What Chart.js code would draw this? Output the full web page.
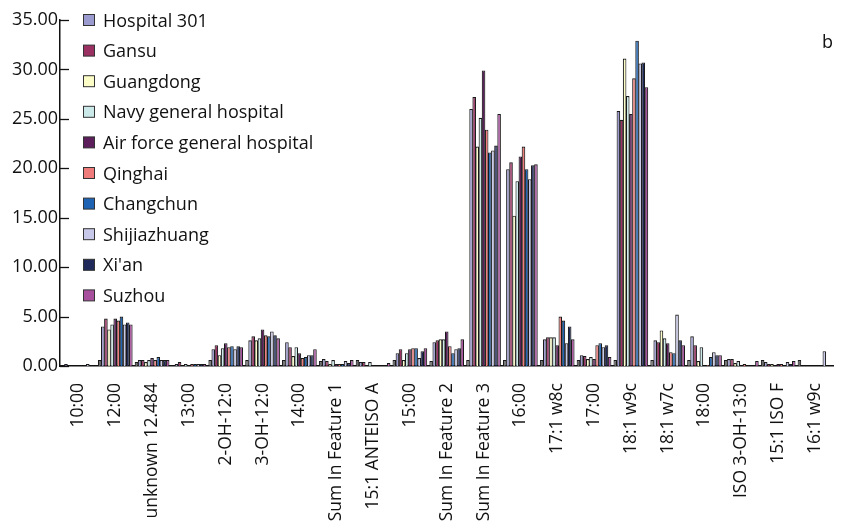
<!DOCTYPE html>
<html>
<head>
<meta charset="utf-8">
<script src="https://cdn.jsdelivr.net/npm/chart.js@4.4.1/dist/chart.umd.min.js"></script>
<style>
  html, body { margin: 0; padding: 0; background: #ffffff; }
  canvas { display: block; }
</style>
</head>
<body>
<canvas id="chart" width="845" height="521"></canvas>
<script>
// Fatty acid profile (%), per strain source
const categories = [
  '10:00', '12:00', 'unknown 12.484', '13:00', '2-OH-12:0', '3-OH-12:0', '14:00',
  'Sum In Feature 1', '15:1 ANTEISO A', '15:00', 'Sum In Feature 2', 'Sum In Feature 3',
  '16:00', '17:1 w8c', '17:00', '18:1 w9c', '18:1 w7c', '18:00', 'ISO 3-OH-13:0',
  '15:1 ISO F', '16:1 w9c'
];

const reference    = [0, 0.6, 0.4, 0, 0.6, 0.6, 0.6, 0.5, 0.6, 0.6, 0.5, 0.6, 0.6, 0.6, 0.6, 0.6, 0.6, 0.6, 0.6, 0.6, 0.6];
const hospital301  = [0.2, 4.0, 0.6, 0.2, 1.7, 2.6, 2.4, 0.7, 0.4, 1.3, 2.4, 26.0, 19.9, 2.7, 1.1, 25.8, 2.6, 3.0, 0.7, 0.4, 0];
const gansu        = [0, 4.8, 0.6, 0.4, 2.1, 3.0, 1.9, 0.5, 0.4, 1.7, 2.6, 27.2, 20.6, 2.9, 1.0, 24.9, 2.4, 2.1, 0.7, 0.2, 0];
const guangdong    = [0, 3.7, 0.4, 0, 1.1, 2.6, 1.0, 0.2, 0, 0.6, 2.7, 22.2, 15.2, 2.9, 0.7, 31.1, 3.6, 0.5, 0.3, 0.2, 0];
const navyGeneral  = [0, 4.2, 0.6, 0.2, 1.8, 2.8, 1.9, 0.6, 0.4, 1.3, 2.7, 25.1, 18.7, 2.9, 0.9, 27.3, 2.8, 1.9, 0.5, 0, 0];
const airForce     = [0, 4.8, 0.8, 0, 2.3, 3.7, 1.3, 0.2, 0, 1.7, 3.5, 29.9, 21.2, 2.1, 0.7, 25.5, 2.3, 0, 0, 0.2, 0];
const qinghai      = [0, 4.6, 0.6, 0.2, 1.9, 3.1, 0.8, 0.2, 0, 1.8, 2.0, 23.9, 22.2, 5.0, 2.1, 29.1, 1.4, 0.1, 0.2, 0.2, 0];
const changchun    = [0, 5.0, 0.9, 0.2, 2.0, 3.0, 0.9, 0.2, 0, 1.8, 1.3, 21.6, 19.9, 4.6, 2.3, 32.9, 1.3, 0.9, 0, 0, 0];
const shijiazhuang = [0.2, 4.2, 0.6, 0.2, 1.7, 3.5, 1.1, 0.5, 0, 0.8, 1.7, 21.8, 18.9, 2.3, 1.9, 30.6, 5.2, 1.4, 0, 0.4, 1.5];
const xian         = [0, 4.4, 0.6, 0.2, 2.0, 3.1, 1.1, 0.3, 0, 1.5, 1.8, 22.3, 20.3, 4.0, 2.1, 30.7, 2.6, 1.1, 0, 0.2, 0];
const suzhou       = [0, 4.2, 0.6, 0.2, 1.9, 2.8, 1.7, 0.6, 0.3, 1.8, 2.7, 25.5, 20.4, 2.7, 0.9, 28.2, 2.1, 1.1, 0.5, 0.5, 0];

const seriesNames = [
  '', 'Hospital 301', 'Gansu', 'Guangdong', 'Navy general hospital', 'Air force general hospital',
  'Qinghai', 'Changchun', 'Shijiazhuang', "Xi'an", 'Suzhou'
];
const seriesData = [
  reference, hospital301, gansu, guangdong, navyGeneral, airForce,
  qinghai, changchun, shijiazhuang, xian, suzhou
];
const seriesColors = [
  '#6a6a6a', '#9b9bd0', '#9b3062', '#fdfdc8', '#cce9ea', '#5c1f5c',
  '#ef7c7a', '#1f64b4', '#c8c8ea', '#1f2a5a', '#a8509e'
];

const yTicks = [0, 5, 10, 15, 20, 25, 30, 35];
const panelLetter = 'b';

const FONT = '"Open Sans", "DejaVu Sans", sans-serif';
const FONT_SIZE = 18;
const INK = '#111111';

// Short tick marks pointing into the plot from the value axis
const insideTicks = {
  id: 'insideTicks',
  afterDraw(chart) {
    const { ctx, chartArea } = chart;
    const y = chart.scales.y;
    ctx.save();
    ctx.strokeStyle = INK;
    ctx.lineWidth = 1.3;
    yTicks.forEach(v => {
      const py = Math.round(y.getPixelForValue(v)) + 0.5;
      ctx.beginPath();
      ctx.moveTo(chartArea.left, py);
      ctx.lineTo(chartArea.left + 9, py);
      ctx.stroke();
    });
    ctx.restore();
  }
};

// Vertical key in the upper-left of the plot
const sideKey = {
  id: 'sideKey',
  afterDraw(chart) {
    const { ctx } = chart;
    ctx.save();
    ctx.font = FONT_SIZE + 'px ' + FONT;
    ctx.textBaseline = 'middle';
    ctx.textAlign = 'left';
    let row = 0;
    chart.data.datasets.forEach(ds => {
      if (!ds.label) return;
      const cy = 20.5 + row * 30.6;
      ctx.fillStyle = ds.backgroundColor;
      ctx.fillRect(83.5, cy - 6, 11, 11);
      ctx.strokeStyle = '#333333';
      ctx.lineWidth = 1;
      ctx.strokeRect(83.5, cy - 6, 11, 11);
      ctx.fillStyle = INK;
      ctx.fillText(ds.label, 103, cy + 1);
      row++;
    });
    ctx.fillText(panelLetter, 822, 43);
    ctx.restore();
  }
};

new Chart(document.getElementById('chart'), {
  type: 'bar',
  data: {
    labels: categories,
    datasets: seriesData.map((vals, i) => ({
      label: seriesNames[i],
      data: vals,
      backgroundColor: seriesColors[i],
      borderColor: '#1a1a1a',
      borderWidth: 1.1,
      categoryPercentage: 0.93,
      barPercentage: 1.15
    }))
  },
  options: {
    responsive: false,
    animation: false,
    layout: { padding: { top: 20, right: 0, left: 0, bottom: 0 } },
    plugins: {
      legend: { display: false },
      tooltip: { enabled: false }
    },
    scales: {
      x: {
        grid: { display: false },
        border: { display: true, color: INK, width: 1.5 },
        ticks: {
          autoSkip: false,
          maxRotation: 90,
          minRotation: 90,
          padding: 9,
          color: INK,
          font: { family: FONT, size: 17.5 }
        },
        afterFit(scale) { scale.height = 155; }
      },
      y: {
        min: 0,
        max: 35,
        afterBuildTicks(scale) { scale.ticks = yTicks.map(v => ({ value: v })); },
        grid: { display: false, drawTicks: false },
        border: { display: true, color: INK, width: 1.5 },
        ticks: {
          padding: 2,
          color: INK,
          font: { family: FONT, size: FONT_SIZE },
          callback: v => Number(v).toFixed(2)
        },
        afterFit(scale) { scale.width = 60; }
      }
    }
  },
  plugins: [insideTicks, sideKey]
});
</script>
</body>
</html>
